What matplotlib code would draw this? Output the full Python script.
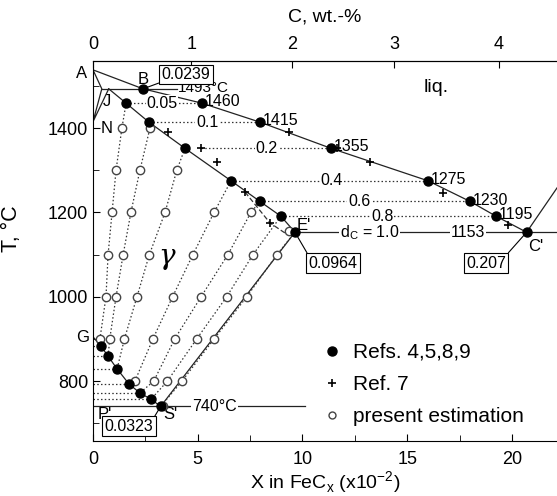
import matplotlib
matplotlib.use("Agg")
import matplotlib.pyplot as plt
from matplotlib.lines import Line2D
from matplotlib.ticker import MultipleLocator

plt.rcParams['font.family'] = ['Liberation Sans', 'DejaVu Sans']

# --- data (X in units of 1e-2, T in deg C) ---
# tie-line temperatures and their d_C labels
tie_t = [1459, 1414, 1352, 1275, 1226, 1191]
tie_lab = ["0.05", "0.1", "0.2", "0.4", "0.6", "0.8"]
tie_lab_x = [3.3, 5.45, 8.3, 11.4, 12.7, 13.8]

# filled points (Refs. 4,5,8,9)
liq_x = [5.2, 7.97, 11.36, 15.99, 18.0, 19.24]
liq_lab = ["1460", "1415", "1355", "1275", "1230", "1195"]
sol_x = [1.58, 2.67, 4.39, 6.59, 7.97, 8.97]
gs_x = [0.38, 0.72, 1.15, 1.72, 2.24, 2.77]
gs_t = [883, 859, 829, 793, 772, 757]

# special points
A = (0.0, 1538)
H = (0.42, 1493)
J = (0.75, 1493)
N = (0.0, 1415)
B = (2.39, 1493)
E = (9.64, 1153)
C = (20.7, 1153)
G = (0.0, 905)
S = (3.23, 740)
graph_end = (22.15, 1258)

# plus markers (Ref. 7)
ref7_x = [9.36, 11.65, 13.2, 16.7, 19.8, 3.58, 5.16, 5.92, 7.26, 8.45]
ref7_t = [1390, 1352, 1319, 1246, 1170, 1390, 1352, 1319, 1248, 1175]

# open circles (present estimation), one row per temperature
circ_rows = {
    1400: [1.38, 2.72],
    1300: [1.10, 2.24, 4.00],
    1200: [0.91, 1.81, 3.44, 5.78, 7.54],
    1100: [0.72, 1.44, 2.69, 4.77, 6.44, 7.64, 8.78],
    1000: [0.62, 1.10, 2.10, 3.80, 5.16, 6.38, 7.34],
    900: [0.33, 0.80, 1.50, 2.86, 3.90, 4.95, 5.78],
    800: [2.00, 2.90, 3.55, 4.25],
}
extra_circ_x = [9.35, 3.35]
extra_circ_t = [1155, 742]

dotted = dict(color='#333333', lw=0.9, ls=(0, (1.2, 1.8)))
solid = dict(color='#222222', lw=0.9)


def wt_from_x(X):
    x = X / 100.0
    return 100.0 * 12.011 * x / (55.845 + 12.011 * x)


def x_from_wt(w):
    return 100.0 * w * 55.845 / (12.011 * (100.0 - w))


fig = plt.figure(figsize=(5.57, 4.96), dpi=100)
ax = fig.add_axes([93 / 557, 1 - 441 / 496, 464 / 557, 380 / 496])
ax.set_xlim(0, 22.15)
ax.set_ylim(658, 1559)

# liquidus A-B-C' and graphite liquidus
lx = [A[0], B[0]] + liq_x + [C[0]]
lt = [A[1], B[1]] + tie_t + [C[1]]
ax.plot(lx, lt, **solid)
ax.plot([C[0], graph_end[0]], [C[1], graph_end[1]], **solid)

# delta-ferrite corner
ax.plot([A[0], H[0], N[0], J[0]], [A[1], H[1], N[1], J[1]], **solid)
ax.plot([H[0], 4.0], [H[1], H[1]], **solid)

# solidus J-E'
ax.plot([J[0]] + sol_x + [E[0]], [J[1]] + tie_t + [E[1]], **solid)
ax.plot([7.26, 8.45, 9.2], [1248, 1175, 1150], color='#333333', lw=0.9, ls=(0, (4, 2)))

# eutectic, E'-S', G-S', eutectoid
ax.plot([E[0], 22.15], [E[1], E[1]], **solid)
ax.plot([E[0], S[0]], [E[1], S[1]], **solid)
ax.plot([G[0]] + gs_x + [S[0]], [G[1]] + gs_t + [S[1]], **solid)
ax.plot([0, 10.1], [S[1], S[1]], **solid)

# tie lines
for i, t in enumerate(tie_t):
    x0 = 5.16 if i == 2 else sol_x[i]
    ax.plot([x0, liq_x[i]], [t, t], **dotted)
    ax.text(tie_lab_x[i], t, tie_lab[i], fontsize=11.5, ha='center', va='center',
            bbox=dict(fc='white', ec='none', pad=0.5))
    ax.annotate(liq_lab[i], (liq_x[i], t), xytext=(2, 1), textcoords='offset points',
                fontsize=11.5, ha='left', va='center')

# iso-lines through the open circles
for k in range(7):
    if k < 6:
        xs, ts = [sol_x[k]], [tie_t[k]]
    else:
        xs, ts = [E[0]], [E[1]]
    for t in sorted(circ_rows, reverse=True):
        row = circ_rows[t]
        idx = k - 3 if t == 800 else k
        if 0 <= idx < len(row):
            xs.append(row[idx])
            ts.append(t)
    if k < 6:
        xs.append(gs_x[k])
        ts.append(gs_t[k])
    else:
        xs.append(S[0])
        ts.append(S[1])
    ax.plot(xs, ts, **dotted)

# dotted lines from G-S' points to the axis
for x, t in zip(gs_x, gs_t):
    ax.plot([0, x], [t, t], **dotted)

# markers
ox = [x for t in circ_rows for x in circ_rows[t]] + extra_circ_x
ot = [t for t in circ_rows for x in circ_rows[t]] + extra_circ_t
ax.plot(ox, ot, ls='', marker='o', ms=6, mfc='white', mec='#444444', mew=1, zorder=4)
fx = liq_x + sol_x + gs_x + [B[0], E[0], C[0], S[0]]
ft = tie_t + tie_t + gs_t + [B[1], E[1], C[1], S[1]]
ax.plot(fx, ft, ls='', marker='o', ms=6.5, color='black', zorder=5)
ax.plot(ref7_x, ref7_t, ls='', marker='+', ms=6, mew=1.2, color='black', zorder=5)

# text labels on the lines
ax.text(4.06, 1495, "1493°C", fontsize=11, ha='left', va='center')
ax.text(13.2, 1153, "d$_\\mathregular{C}$ = 1.0", fontsize=11.5, ha='center', va='center',
        bbox=dict(fc='white', ec='none', pad=0.5))
ax.text(17.9, 1153, "1153", fontsize=11.5, ha='center', va='center',
        bbox=dict(fc='white', ec='none', pad=0.5))
ax.text(5.8, 740, "740°C", fontsize=11.5, ha='center', va='center',
        bbox=dict(fc='white', ec='none', pad=1))
ax.text(16.4, 1497, "liq.", fontsize=14, ha='center', va='center')
ax.text(3.5, 1095, "γ", fontsize=20, ha='center', va='center',
        family='DejaVu Serif', style='italic')

# point names
names = [("A", -0.3, 1530, 'right'), ("B", 2.4, 1516, 'center'), ("J", 0.67, 1462, 'center'),
         ("N", 0.67, 1398, 'center'), ("G", -0.2, 904, 'right'), ("P'", 0.2, 722, 'left'),
         ("S'", 3.35, 722, 'left'), ("E'", 9.7, 1170, 'left'), ("C'", 20.75, 1120, 'left')]
for s, x, t, ha in names:
    ax.text(x, t, s, fontsize=12, ha=ha, va='center', clip_on=False)

# boxed compositions with leader lines
boxes = [("0.0239", B, (4.44, 1527), (0, 0)), ("0.0964", E, (11.46, 1080), (0, 1)),
         ("0.207", C, (18.76, 1080), (1, 1)), ("0.0323", S, (1.71, 693), (1, 1))]
for s, p, c, rp in boxes:
    ax.annotate(s, p, xytext=c, fontsize=11.5, ha='center', va='center',
                bbox=dict(boxstyle='square,pad=0.15', fc='white', ec='black', lw=0.8),
                arrowprops=dict(arrowstyle='-', color='black', lw=0.8, relpos=rp,
                                shrinkA=0, shrinkB=0))

# legend
handles = [Line2D([], [], ls='', marker='o', ms=6.5, color='black'),
           Line2D([], [], ls='', marker='+', ms=6, mew=1.2, color='black'),
           Line2D([], [], ls='', marker='o', ms=5, mfc='white', mec='#444444')]
ax.legend(handles, ["Refs. 4,5,8,9", "Ref. 7", "present estimation"], loc='upper left',
          bbox_to_anchor=(0.493, 0.258), frameon=False, fontsize=15, handlelength=1,
          handletextpad=0.5, labelspacing=0.62, borderpad=0, borderaxespad=0)

# axes styling
ax.spines['right'].set_visible(False)
ax.xaxis.set_major_locator(MultipleLocator(5))
ax.xaxis.set_minor_locator(MultipleLocator(2.5))
ax.yaxis.set_major_locator(MultipleLocator(200))
ax.yaxis.set_minor_locator(MultipleLocator(100))
ax.tick_params(which='both', direction='in', labelsize=13, top=False, right=False)
ax.tick_params(which='major', length=5)
ax.tick_params(which='minor', length=4)
ax.tick_params(axis='x', pad=7)
ax.set_xlabel("X in FeC$_\\mathregular{x}$ (x10$^\\mathregular{-2}$)", fontsize=14, labelpad=1)
ax.set_ylabel("T, °C", fontsize=15.5)
ax.yaxis.set_label_coords(-0.153, 0.558)

top = ax.secondary_xaxis('top', functions=(wt_from_x, x_from_wt))
top.set_xticks([0, 1, 2, 3, 4])
top.tick_params(direction='in', labelsize=13, length=5, pad=6)
top.set_xlabel("C, wt.-%", fontsize=14, labelpad=10)

fig.savefig("out.png", dpi=100)
